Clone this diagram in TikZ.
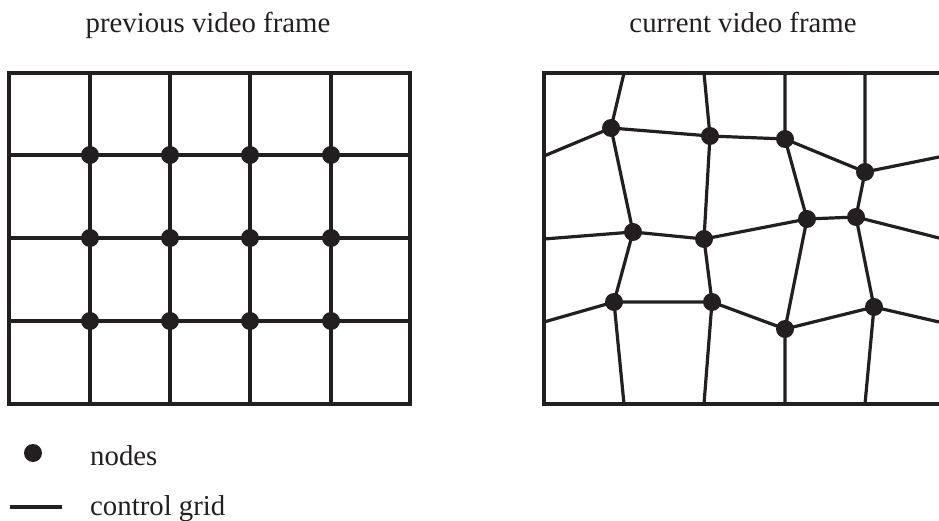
\documentclass[tikz,border=0pt]{standalone}
\usepackage{fontspec}
\setmainfont{Liberation Serif}
\definecolor{ink}{RGB}{35,31,32}
\begin{document}
\begin{tikzpicture}[x=1pt,y=-1pt,
  gridline/.style={draw=ink,line width=3.2pt},
  dot/.style={circle,fill=ink,inner sep=0pt,minimum size=18pt},
  lbl/.style={font=\fontsize{28.8}{34}\selectfont,text=ink,inner sep=0pt}]
\useasboundingbox (0,0) rectangle (939,521);

% titles
\node[lbl,anchor=base] (t1) at (208,33) {previous video frame};
\node[lbl,anchor=base] (t2) at (743,33) {current video frame};

% ---------- previous frame (regular grid) ----------
\draw[gridline] (9,73) rectangle (410,404);
\foreach \x in {90,170,250,331}{
  \coordinate (pt\x) at (\x,73);
  \coordinate (pb\x) at (\x,404);
  \draw[gridline] (pt\x) -- (pb\x);
}
\foreach \y in {155,238,321}{
  \coordinate (pl\y) at (9,\y);
  \coordinate (pr\y) at (410,\y);
  \draw[gridline] (pl\y) -- (pr\y);
}
\foreach \x [count=\i] in {90,170,250,331}{
  \foreach \y [count=\j] in {155,238,321}{
    \node[dot] (p\j\i) at (\x,\y) {};
  }
}

% ---------- current frame (deformed grid) ----------
\coordinate (cTL) at (544,73);
\coordinate (cBL) at (544,404);
\coordinate (cTR) at (939,73);
\coordinate (cBR) at (939,404);
\draw[gridline] (cTR) -- (cTL) -- (cBL) -- (cBR);

\coordinate (T1) at (624,73);  \coordinate (T2) at (704,73);
\coordinate (T3) at (785,73);  \coordinate (T4) at (865,73);
\coordinate (D1) at (624,404); \coordinate (D2) at (704,404);
\coordinate (D3) at (785,404); \coordinate (D4) at (865,404);
\coordinate (L1) at (544,156); \coordinate (L2) at (544,239); \coordinate (L3) at (544,322);
\coordinate (R1) at (939,157); \coordinate (R2) at (939,238); \coordinate (R3) at (939,322);

\coordinate (A1) at (611,128); \coordinate (A2) at (710,136);
\coordinate (A3) at (785,139); \coordinate (A4) at (865,172);
\coordinate (B1) at (633,232); \coordinate (B2) at (704,239);
\coordinate (B3) at (807,219); \coordinate (B4) at (856,217);
\coordinate (C1) at (614,302); \coordinate (C2) at (712,302);
\coordinate (C3) at (785,329); \coordinate (C4) at (874,307);

\foreach \i in {1,2,3,4}{
  \draw[gridline] (T\i) -- (A\i) -- (B\i) -- (C\i) -- (D\i);
}
\draw[gridline] (L1) -- (A1) -- (A2) -- (A3) -- (A4) -- (R1);
\draw[gridline] (L2) -- (B1) -- (B2) -- (B3) -- (B4) -- (R2);
\draw[gridline] (L3) -- (C1) -- (C2) -- (C3) -- (C4) -- (R3);

\foreach \n in {A1,A2,A3,A4,B1,B2,B3,B4,C1,C2,C3,C4}{
  \node[dot] (n\n) at (\n) {};
}

% ---------- legend ----------
\node[dot] (legdot) at (33,453) {};
\node[lbl,anchor=base west] (legnodes) at (90,465) {nodes};
\coordinate (lega) at (10,507);
\coordinate (legb) at (62,507);
\draw[gridline] (lega) -- (legb);
\node[lbl,anchor=base west] (leggrid) at (90,515) {control grid};
\end{tikzpicture}
\end{document}
